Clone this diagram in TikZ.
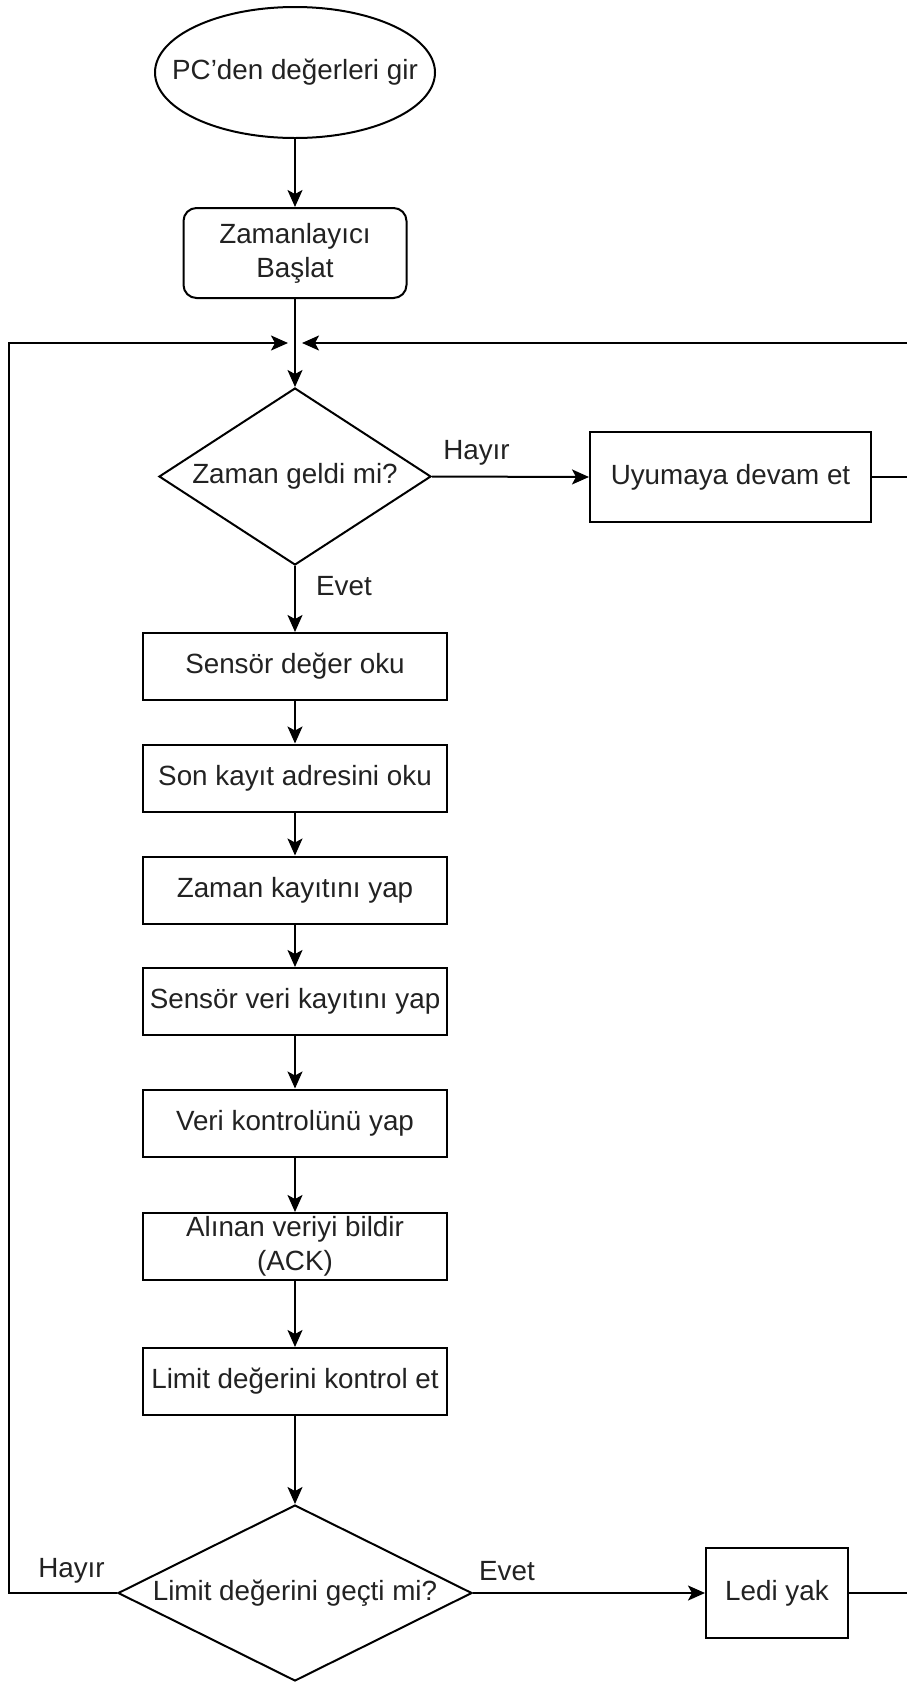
\documentclass[tikz,border=0pt]{standalone}
\usepackage{fontspec}
\setmainfont{Liberation Sans}
\usetikzlibrary{shapes.geometric,arrows.meta}
\definecolor{txt}{HTML}{222222}
\begin{document}
\begin{tikzpicture}[x=1pt,y=-1pt,
  every node/.style={font=\fontsize{27.8}{34}\selectfont, text=txt},
  ln/.style={draw=black, line width=2pt},
  arr/.style={ln, -{Stealth[length=17pt,width=15pt,inset=4pt]}},
  proc/.style={draw=black, line width=2pt, rectangle, minimum width=304pt, minimum height=67pt, inner sep=0pt, align=center},
  rproc/.style={draw=black, line width=2pt, rectangle, rounded corners=13pt, minimum width=223pt, minimum height=90pt, inner sep=0pt, align=center},
  term/.style={draw=black, line width=2pt, ellipse, minimum width=280pt, minimum height=131pt, inner sep=0pt},
  dec/.style={draw=black, line width=2pt, diamond, inner sep=0pt},
  lab/.style={inner sep=0pt}
]
\useasboundingbox (0,0) rectangle (907,1682);
\fill[white] (0,0) rectangle (907,1682);

\node[term, label=center:{PC’den değerleri gir}] (start) at (295,72.5) {};
\node[rproc] (timer) at (295,253) {Zamanlayıcı\\Başlat};
\node[dec, minimum width=272pt, minimum height=177pt, label=center:{Zaman geldi mi?}] (d1) at (295,476.5) {};
\node[proc, minimum width=281pt, minimum height=90pt] (sleep) at (730.5,477) {Uyumaya devam et};
\node[proc] (b1) at (295,666.5) {Sensör değer oku};
\node[proc] (b2) at (295,778) {Son kayıt adresini oku};
\node[proc] (b3) at (295,890) {Zaman kayıtını yap};
\node[proc] (b4) at (295,1001.5) {Sensör veri kayıtını yap};
\node[proc] (b5) at (295,1123) {Veri kontrolünü yap};
\node[proc] (b6) at (295,1246.5) {Alınan veriyi bildir\\(ACK)};
\node[proc] (b7) at (295,1381.5) {Limit değerini kontrol et};
\node[dec, minimum width=354pt, minimum height=176pt, label=center:{Limit değerini geçti mi?}] (d2) at (295,1593) {};
\node[proc, minimum width=142pt, minimum height=90pt] (led) at (777,1593) {Ledi yak};

\node[lab] (l1) at (476.5,453) {Hayır};
\node[lab] (l2) at (344,586) {Evet};
\node[lab] (l3) at (71.5,1571) {Hayır};
\node[lab] (l4) at (507,1571) {Evet};

\coordinate (jl) at (288,343);
\coordinate (jr) at (302,343);
\coordinate (rt) at (914,343);
\coordinate (lb) at (8.7,1593);

\draw[arr] (start.south) -- (timer.north);
\draw[arr] (timer.south) -- (d1.north);
\draw[arr] (d1.east) -- (sleep.west);
\draw[arr] (sleep.east) -| (rt) -- (jr);
\draw[arr] (d1.south) -- (b1.north);
\draw[arr] (b1.south) -- (b2.north);
\draw[arr] (b2.south) -- (b3.north);
\draw[arr] (b3.south) -- (b4.north);
\draw[arr] (b4.south) -- (b5.north);
\draw[arr] (b5.south) -- (b6.north);
\draw[arr] (b6.south) -- (b7.north);
\draw[arr] (b7.south) -- (d2.north);
\draw[arr] (d2.east) -- (led.west);
\draw[arr] (d2.west) -- (lb) |- (jl);
\draw[ln] (led.east) -| (rt);
\end{tikzpicture}
\end{document}
